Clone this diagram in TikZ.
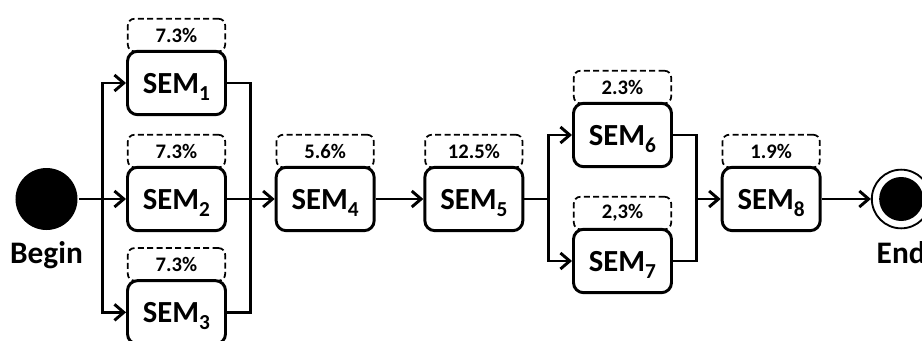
\documentclass[tikz,border=0pt]{standalone}
\usepackage{fontspec}
\setmainfont{Carlito}
\usetikzlibrary{arrows.meta,positioning,calc}

\newcommand{\semlbl}[1]{SEM\raisebox{-5.5pt}{\fontsize{16}{16}\selectfont #1}}

\begin{document}
\begin{tikzpicture}[flow/.style={-{Straight Barb[length=7pt,width=12pt]}},
                    node distance=111.5pt,line width=2.2pt]
\tikzstyle{sem}=[draw,rounded corners=7.5pt,minimum width=73.5pt,minimum height=47.5pt,
                 line width=2.2pt,text depth=0pt,font=\fontsize{23}{23}\selectfont\bfseries]
\tikzstyle{pct}=[draw,dashed,dash pattern=on 4.5pt off 2.5pt,rounded corners=5pt,
                 minimum width=73pt,minimum height=24.5pt,line width=1.3pt,
                 font=\fontsize{15.5}{15.5}\selectfont\bfseries]
\tikzstyle{lbl}=[font=\fontsize{23.5}{23.5}\selectfont\bfseries,anchor=base]
\useasboundingbox (-34.875pt,-105.75pt) rectangle (656.625pt,149.25pt);

\node[circle,fill,minimum size=46.5pt,inner sep=0pt] (Begin) at (0,0) {};
\node[lbl] (BeginTxt) at ([yshift=-48pt]Begin.center) {Begin};

\node[sem] (SEM2) [right of=Begin,node distance=97.5pt] {\semlbl{2}};
\node[sem] (SEM1) [above of=SEM2,node distance=87pt] {\semlbl{1}};
\node[sem] (SEM3) [below of=SEM2,node distance=85pt] {\semlbl{3}};
\node[sem] (SEM4) [right of=SEM2] {\semlbl{4}};
\node[sem] (SEM5) [right of=SEM4] {\semlbl{5}};
\coordinate[right of=SEM5] (mid67);
\node[sem] (SEM6) [above of=mid67,node distance=48pt] {\semlbl{6}};
\node[sem] (SEM7) [below of=mid67,node distance=46.5pt] {\semlbl{7}};
\node[sem] (SEM8) [right of=mid67] {\semlbl{8}};

\node[circle,draw,line width=1.4pt,minimum size=44pt,inner sep=0pt] (End)
     [right of=SEM8,node distance=97.5pt] {};
\node[circle,fill,minimum size=33pt,inner sep=0pt] (EndDot) at (End) {};
\node[lbl] (EndTxt) at ([yshift=-48pt]End.center) {End};

% shares
\node[pct,above=-1.8pt of SEM1] (P1) {7.3\%};
\node[pct,above=-1.8pt of SEM2] (P2) {7.3\%};
\node[pct,above=-1.8pt of SEM3] (P3) {7.3\%};
\node[pct,above=-1.8pt of SEM4] (P4) {5.6\%};
\node[pct,above=-1.8pt of SEM5] (P5) {12.5\%};
\node[pct,above=-1.8pt of SEM6] (P6) {2.3\%};
\node[pct,above=-1.8pt of SEM7] (P7) {2,3\%};
\node[pct,above=-1.8pt of SEM8] (P8) {1.9\%};

% forks and joins
\coordinate (fork1) at ($(Begin.east)!0.5!(SEM2.west)$);
\coordinate (join1) at ($(SEM2.east)!0.5!(SEM4.west)$);
\coordinate (fork2) at ($(SEM5.east)!0.5!(SEM6.west |- SEM5)$);
\coordinate (join2) at ($(SEM6.east |- SEM8)!0.5!(SEM8.west)$);

\draw[flow] (Begin) -- (SEM2);
\draw[flow] (fork1) |- (SEM1);
\draw[flow] (fork1) |- (SEM3);
\draw (SEM1) -| (join1);
\draw (SEM3) -| (join1);
\draw[flow] (SEM2) -- (SEM4);
\draw[flow] (SEM4) -- (SEM5);
\draw (SEM5) -- (fork2);
\draw[flow] (fork2) |- (SEM6);
\draw[flow] (fork2) |- (SEM7);
\draw (SEM6) -| (join2);
\draw (SEM7) -| (join2);
\draw[flow] (join2) -- (SEM8);
\draw[flow] (SEM8) -- (End);
\end{tikzpicture}
\end{document}
